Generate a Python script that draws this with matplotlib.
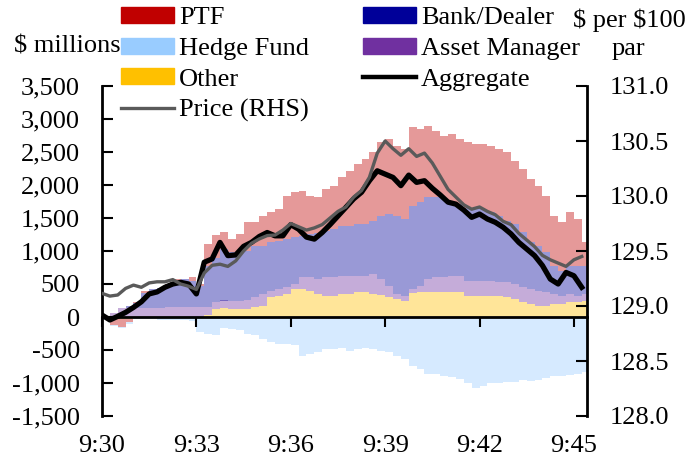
import numpy as np
import matplotlib
matplotlib.use("Agg")
from matplotlib import pyplot as plt
from matplotlib.patches import Patch
from matplotlib.lines import Line2D
from matplotlib.ticker import FuncFormatter

plt.rcParams['font.family'] = 'Liberation Serif'
plt.rcParams['font.size'] = 19

# seconds after 9:30, 15 second buckets
seconds = np.arange(0, 916, 15)

other = [0, -20, -30, -30, -10, 0, 0, 0, 0, 0, 0, 0, 0, 30, 120, 130, 120, 120,
         125, 145, 170, 300, 320, 350, 425, 425, 400, 350, 320, 320, 350, 350,
         375, 375, 350, 330, 300, 270, 245, 360, 375, 375, 375, 375, 375, 375,
         320, 320, 320, 320, 320, 300, 270, 220, 195, 170, 170, 195, 195, 220,
         220, 245]
asset_mgr = [20, 60, 130, 130, 130, 130, 135, 140, 145, 150, 150, 150, 150, 120,
             100, 120, 120, 125, 135, 155, 180, 100, 105, 100, 75, 175, 200, 225,
             280, 280, 275, 275, 250, 250, 300, 245, 175, 80, 80, 60, 100, 200,
             225, 225, 250, 250, 230, 230, 230, 230, 205, 225, 230, 230, 230, 230,
             205, 155, 130, 130, 105, 105]
bank_dealer = [0, 0, 0, 40, 80, 240, 290, 300, 340, 400, 425, 400, 325, 630, 680,
               780, 740, 755, 740, 780, 730, 730, 730, 730, 710, 630, 660, 705,
               710, 730, 760, 760, 785, 785, 810, 960, 1085, 1185, 1160, 1265,
               1260, 1240, 1215, 1190, 1110, 1085, 1100, 1085, 1085, 1035, 1010,
               935, 910, 835, 705, 680, 605, 430, 375, 430, 455, 430]
ptf = [-30, -100, -120, -50, 20, 20, 0, 0, 10, 20, 0, 50, 30, 320, 350, 260, 200,
       260, 435, 355, 455, 455, 480, 660, 680, 685, 580, 535, 630, 660, 730, 830,
       910, 985, 1035, 1110, 1135, 1060, 1060, 1190, 1115, 1085, 1010, 955, 1040,
       985, 1000, 985, 985, 1010, 1010, 1035, 960, 960, 960, 910, 860, 755, 735,
       805, 705, 350]
hedge_fund = [-10, -10, -10, -20, -20, -30, -30, -40, -40, -40, -40, -60, -230,
              -250, -270, -160, -180, -200, -260, -280, -330, -385, -410, -410,
              -430, -585, -560, -530, -485, -485, -470, -510, -490, -465, -490,
              -510, -535, -585, -635, -740, -790, -865, -870, -890, -915, -940,
              -1000, -1080, -1040, -1000, -1000, -980, -990, -960, -965, -960,
              -930, -900, -900, -880, -870, -840]
aggregate = [30, -45, 10, 70, 145, 230, 350, 380, 450, 500, 525, 500, 350, 830,
             880, 1130, 930, 940, 1070, 1130, 1220, 1280, 1230, 1230, 1400, 1330,
             1210, 1180, 1280, 1400, 1530, 1660, 1790, 1890, 2065, 2215, 2165,
             2115, 1990, 2150, 2040, 2065, 1950, 1850, 1740, 1710, 1620, 1510,
             1560, 1485, 1435, 1360, 1260, 1130, 1030, 930, 780, 575, 500, 675,
             625, 450]
price = [129.115, 129.09, 129.10, 129.16, 129.19, 129.17, 129.21, 129.22, 129.22,
         129.24, 129.20, 129.18, 129.15, 129.30, 129.37, 129.38, 129.36, 129.41,
         129.50, 129.57, 129.61, 129.64, 129.645, 129.69, 129.75, 129.72, 129.69,
         129.71, 129.74, 129.80, 129.86, 129.90, 129.99, 130.05, 130.17, 130.39,
         130.50, 130.43, 130.37, 130.43, 130.36, 130.39, 130.30, 130.18, 130.06,
         129.99, 129.92, 129.88, 129.90, 129.86, 129.83, 129.77, 129.74, 129.66,
         129.60, 129.54, 129.46, 129.42, 129.39, 129.36, 129.42, 129.45]

tick_secs = [0, 180, 360, 540, 720, 900]
tick_labels = ["9:30", "9:33", "9:36", "9:39", "9:42", "9:45"]

fig = plt.figure(figsize=(6.99, 4.62), dpi=100)
ax = fig.add_axes([102/699, 46/462, 485/699, 330/462])

# stacked bars, positives up and negatives down
series = [
    ("Other", other, "#FFC000"),
    ("Asset Manager", asset_mgr, "#7030A0"),
    ("Bank/Dealer", bank_dealer, "#000099"),
    ("PTF", ptf, "#C00000"),
    ("Hedge Fund", hedge_fund, "#99CCFF"),
]
pos_base = np.zeros(len(seconds))
neg_base = np.zeros(len(seconds))
for name, vals, col in series:
    vals = np.asarray(vals, dtype=float)
    base = np.where(vals >= 0, pos_base, neg_base)
    ax.bar(seconds, vals, width=15, bottom=base, align='edge', color=col,
           alpha=0.4, linewidth=0)
    pos_base += np.clip(vals, 0, None)
    neg_base += np.clip(vals, None, 0)

ax.plot(seconds, aggregate, color="black", lw=3.8, zorder=3)

ax.set_xlim(0, 925)
ax.set_ylim(-1500, 3500)
ax.set_yticks(range(-1500, 3501, 500))
ax.yaxis.set_major_formatter(FuncFormatter(lambda v, p: f"{v:,.0f}"))
ax.tick_params(axis='y', direction='in', length=8, width=1.5, pad=16)
ax.spines['top'].set_visible(False)
ax.spines['right'].set_visible(False)
ax.spines['left'].set_linewidth(2)
ax.spines['bottom'].set_position(('data', 0))
ax.spines['bottom'].set_linewidth(2)
ax.set_xticks(tick_secs)
ax.tick_params(axis='x', direction='out', length=7, width=1.5, labelbottom=False)

sec = ax.secondary_xaxis('bottom')
sec.set_xticks(tick_secs, labels=tick_labels)
sec.tick_params(length=0, pad=14)
sec.spines['bottom'].set_visible(False)

ax2 = ax.twinx()
ax2.plot(seconds, price, color="#5a5a5a", lw=2.4)
ax2.set_ylim(128, 131)
ax2.set_yticks(np.arange(128, 131.01, 0.5))
ax2.yaxis.set_major_formatter(FuncFormatter(lambda v, p: f"{v:.1f}"))
ax2.tick_params(axis='y', direction='in', length=8, width=1.5, pad=16)
for s in ['top', 'bottom', 'left']:
    ax2.spines[s].set_visible(False)
ax2.spines['right'].set_linewidth(2)

handles = [
    Patch(color="#C00000", label="PTF"),
    Patch(color="#99CCFF", label="Hedge Fund"),
    Patch(color="#FFC000", label="Other"),
    Line2D([], [], color="#5a5a5a", lw=2.4, label="Price (RHS)"),
    Patch(color="#000099", label="Bank/Dealer"),
    Patch(color="#7030A0", label="Asset Manager"),
    Line2D([], [], color="black", lw=3.2, label="Aggregate"),
]
fig.legend(handles=handles, ncol=2, loc='upper left',
           bbox_to_anchor=(121/699, 1 - 7/462), frameon=False,
           borderpad=0, borderaxespad=0, handlelength=2.0, handleheight=0.55,
           handletextpad=0.2, labelspacing=0.32, columnspacing=2.05)

fig.text(14/699, 1 - 47/462, "$ millions", ha='left', va='center', parse_math=False)
fig.text(629/699, 1 - 20/462, "$ per $100", ha='center', va='center', parse_math=False)
fig.text(628/699, 1 - 49/462, "par", ha='center', va='center')

fig.savefig("out.png", dpi=100)
